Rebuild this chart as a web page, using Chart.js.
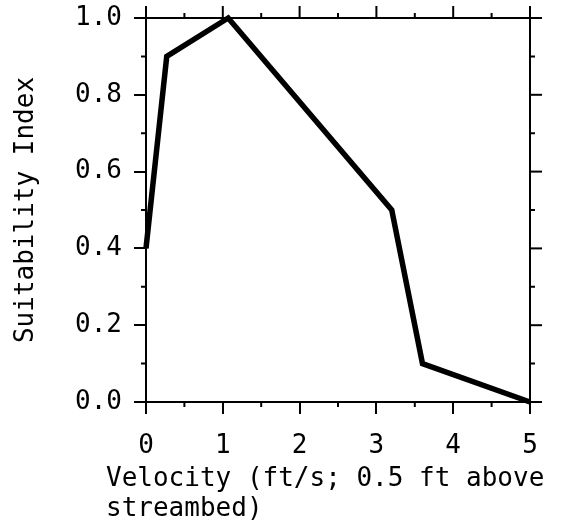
<!DOCTYPE html>
<html>
<head>
<meta charset="utf-8">
<script src="https://cdn.jsdelivr.net/npm/chart.js@4"></script>
<style>
  body { margin: 0; background: #fff; }
  #myChart { display: block; }
</style>
</head>
<body>
<canvas id="myChart" width="570" height="530"></canvas>
<script>
const velocity = [0, 0.27, 1.07, 3.2, 3.6, 5];
const suitability = [0.4, 0.9, 1.0, 0.5, 0.1, 0.0];
const xTickValues = [0, 0.5, 1, 1.5, 2, 2.5, 3, 3.5, 4, 4.5, 5];
const yTickValues = [0, 0.1, 0.2, 0.3, 0.4, 0.5, 0.6, 0.7, 0.8, 0.9, 1.0];
const xTitleLines = ["Velocity (ft/s; 0.5 ft above", "streambed)"];

const myChart = document.querySelector("#myChart");
const monoFont = "'DejaVu Sans Mono', monospace";

// minor ticks on all sides + mirrored major ticks on top/right, plus x title
const frameTicks = {
  id: "frameTicks",
  afterDraw(chart) {
    const { ctx, chartArea: a, scales } = chart;
    ctx.save();
    ctx.strokeStyle = "#000";
    ctx.lineWidth = 2;
    ctx.beginPath();
    ctx.moveTo(a.left, a.top);
    ctx.lineTo(a.right, a.top);
    ctx.lineTo(a.right, a.bottom);
    ctx.stroke();
    xTickValues.forEach((v) => {
      const px = scales.x.getPixelForValue(v);
      const major = Number.isInteger(v);
      const len = major ? 12 : 5;
      ctx.beginPath();
      ctx.moveTo(px, a.top);
      ctx.lineTo(px, a.top - len);
      if (!major) {
        ctx.moveTo(px, a.bottom);
        ctx.lineTo(px, a.bottom + len);
      }
      ctx.stroke();
    });
    yTickValues.forEach((v, i) => {
      const py = scales.y.getPixelForValue(v);
      const major = i % 2 === 0;
      const len = major ? 12 : 5;
      ctx.beginPath();
      ctx.moveTo(a.right, py);
      ctx.lineTo(a.right + len, py);
      if (!major) {
        ctx.moveTo(a.left, py);
        ctx.lineTo(a.left - len, py);
      }
      ctx.stroke();
    });
    // x axis title, left aligned under the axis (too wide for the scale title)
    ctx.fillStyle = "#000";
    ctx.font = "26px " + monoFont;
    ctx.textAlign = "left";
    ctx.textBaseline = "alphabetic";
    xTitleLines.forEach((line, i) => {
      ctx.fillText(line, a.left - 40, a.bottom + 84 + i * 30);
    });
    ctx.restore();
  },
};

const data = {
  datasets: [
    {
      label: "Suitability",
      data: velocity.map((v, i) => ({ x: v, y: suitability[i] })),
      borderColor: "#000",
      borderWidth: 5.5,
      pointRadius: 0,
      fill: false,
      tension: 0,
      clip: false,
    },
  ],
};

const config = {
  type: "line",
  data: data,
  options: {
    responsive: false,
    animation: false,
    layout: { padding: { top: 18, right: 40, left: 0, bottom: 0 } },
    plugins: { legend: { display: false }, tooltip: { enabled: false } },
    scales: {
      x: {
        type: "linear",
        min: 0,
        max: 5,
        afterFit: (s) => {
          s.height = 128;
          s.paddingLeft = 0;
          s.paddingRight = 0;
        },
        ticks: {
          stepSize: 1,
          color: "#000",
          padding: 17,
          font: { family: monoFont, size: 26 },
        },
        grid: {
          drawOnChartArea: false,
          drawTicks: true,
          tickLength: 12,
          color: "#000",
          lineWidth: 2,
        },
        border: { display: true, color: "#000", width: 2 },
      },
      y: {
        min: 0,
        max: 1,
        afterFit: (s) => {
          s.width = 146;
          s.paddingTop = 0;
          s.paddingBottom = 0;
        },
        ticks: {
          stepSize: 0.2,
          color: "#000",
          padding: 12,
          font: { family: monoFont, size: 26 },
          callback: (v) => v.toFixed(1),
        },
        grid: {
          drawOnChartArea: false,
          drawTicks: true,
          tickLength: 12,
          color: "#000",
          lineWidth: 2,
        },
        border: { display: true, color: "#000", width: 2 },
        title: {
          display: true,
          text: "Suitability Index",
          color: "#000",
          font: { family: monoFont, size: 26 },
          padding: { top: 11, bottom: 0 },
        },
      },
    },
  },
  plugins: [frameTicks],
};

const lineChart = new Chart(myChart, config);
</script>
</body>
</html>
